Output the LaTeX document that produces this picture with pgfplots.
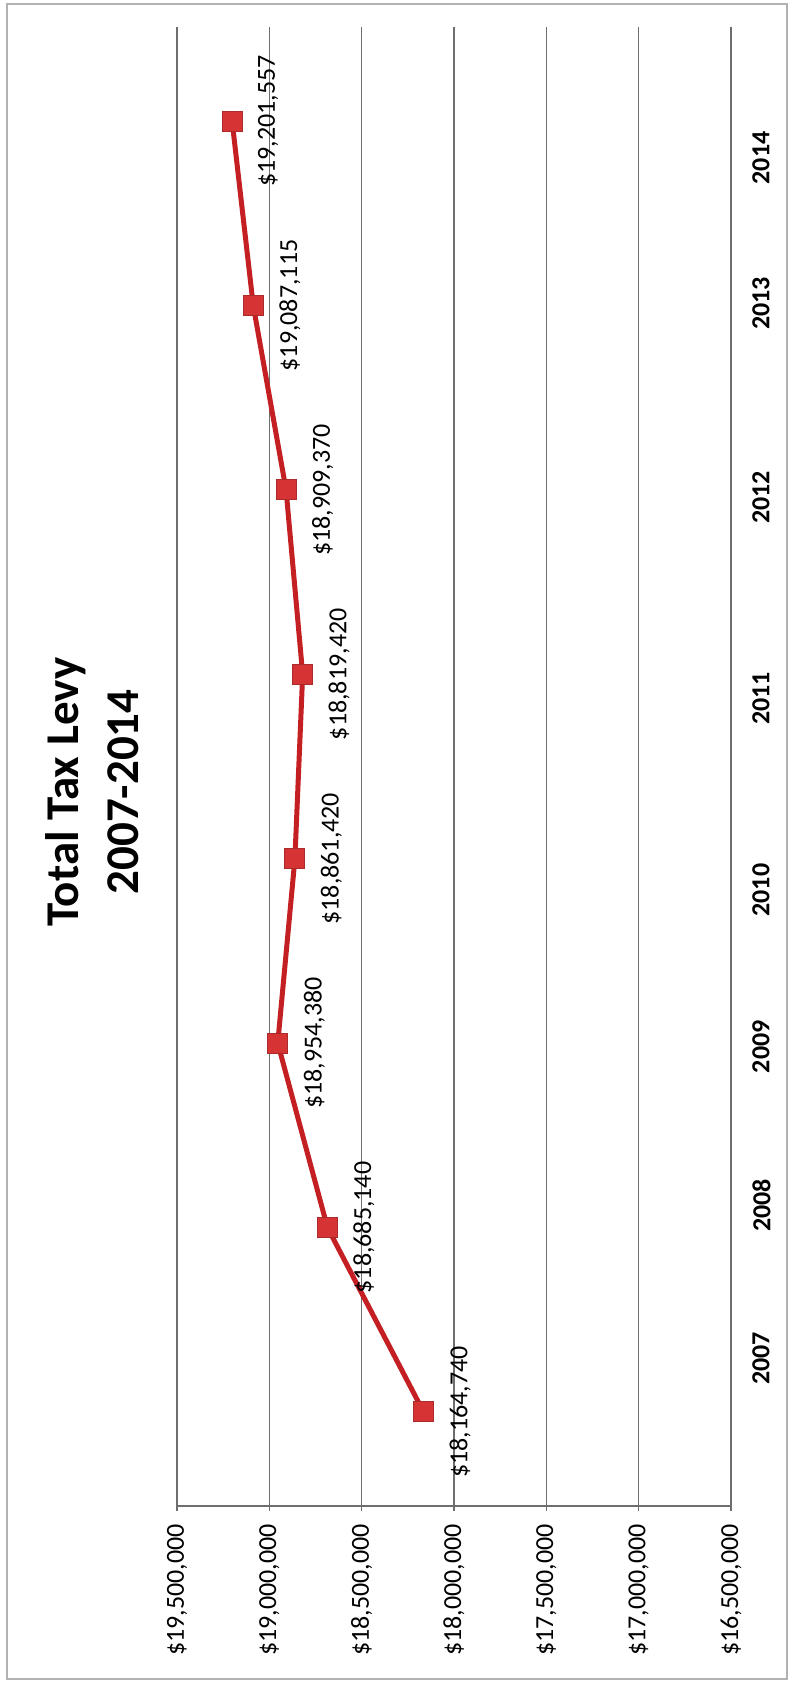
\documentclass[border=0pt]{standalone}
\usepackage{fontspec}
\setmainfont{Carlito}
\usepackage{pgfplots}
\pgfplotsset{compat=1.18}
\definecolor{linered}{RGB}{196,32,36}
\definecolor{markred}{RGB}{214,52,52}
\definecolor{gridgray}{RGB}{110,110,110}

\begin{document}
\begin{tikzpicture}
\useasboundingbox (0,0) rectangle (395pt,842.5pt);
\draw[gray!60, line width=0.8pt] (3.5pt,3pt) rectangle (393.5pt,840.5pt);
\begin{axis}[
  at={(88.5pt,89.5pt)}, anchor=south west,
  scale only axis, width=277pt, height=739.5pt,
  xmin=16.5, xmax=19.5, x dir=reverse,
  ymin=-0.51, ymax=7.51,
  axis x line*=bottom, axis y line*=right,
  axis line style={gridgray, line width=0.65pt},
  xmajorgrids, grid style={gridgray, line width=0.65pt},
  xtick={16.5,17,17.5,18,18.5,19,19.5},
  xticklabels={{\$16,500,000},{\$17,000,000},{\$17,500,000},{\$18,000,000},{\$18,500,000},{\$19,000,000},{\$19,500,000}},
  ytick={0.29,1.12,1.98,2.83,3.87,4.96,6.01,6.80},
  yticklabels={2007,2008,2009,2010,2011,2012,2013,2014},
  tick align=outside, major tick length=2.5pt,
  xtick style={gridgray, line width=0.65pt},
  ytick style={draw=none},
  xticklabel shift=6.5pt,
  yticklabel shift=8pt,
  xticklabel style={rotate=90, anchor=east, inner sep=0pt, font=\fontsize{13pt}{15pt}\selectfont},
  yticklabel style={rotate=90, anchor=north, inner sep=0pt, font=\bfseries\fontsize{13pt}{15pt}\selectfont},
  clip=false,
  nodes near coords={\$\pgfplotspointmeta},
  point meta=explicit symbolic,
  every node near coord/.style={rotate=90, anchor=north, inner sep=0pt, outer xsep=0pt, outer ysep=13pt, black, font=\fontsize{13pt}{15pt}\selectfont},
]
\addplot[linered, line width=2.5pt, mark=square*, mark size=5pt,
  mark options={fill=markred, draw=markred!80!black, line width=0.5pt}]
  table[x=x, y=y, meta=label] {
x y label
18.164740 0 18,164,740
18.685140 1 18,685,140
18.954380 2 18,954,380
18.861420 3 18,861,420
18.819420 4 18,819,420
18.909370 5 18,909,370
19.087115 6 19,087,115
19.201557 7 19,201,557
};
\end{axis}
\node[rotate=90, align=center, font=\bfseries\fontsize{23.5pt}{30pt}\selectfont] at (46pt,446.5pt) {Total Tax Levy\\2007-2014};
\end{tikzpicture}
\end{document}
